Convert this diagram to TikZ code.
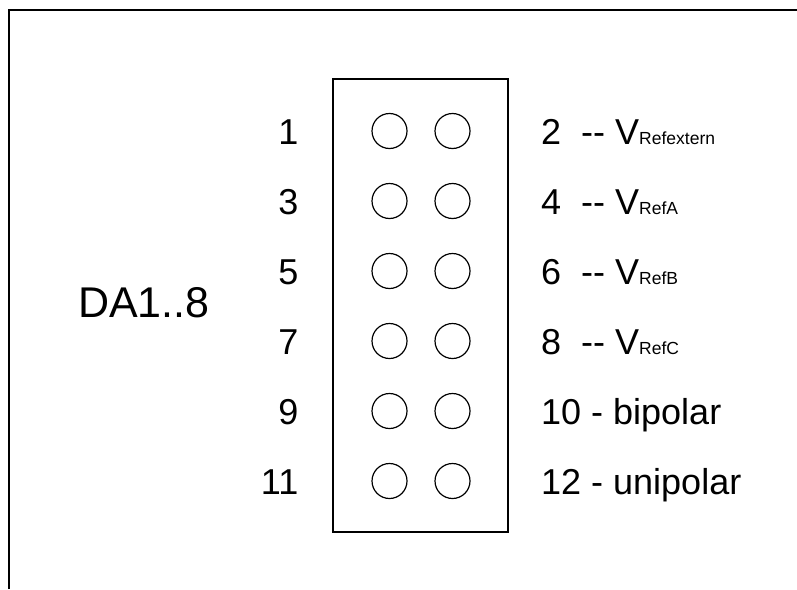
\documentclass[tikz,border=0pt]{standalone}
\usepackage{fontspec}
\setmainfont{Liberation Sans}
\usetikzlibrary{positioning}

\newcommand{\vsub}[1]{V{\fontsize{17.5}{20}\selectfont #1}}

\begin{document}
\begin{tikzpicture}[x=1pt,y=-1pt,node distance=70pt]
  \tikzstyle{hole}=[circle,draw,line width=1.2pt,minimum size=35pt,inner sep=0pt]
  \tikzstyle{num}=[font=\fontsize{36}{42}\selectfont,inner sep=0pt]
  \tikzstyle{lnum}=[num,anchor=base east]
  \tikzstyle{rnum}=[num,anchor=base west]

  \useasboundingbox (0,0) rectangle (797,589);
  \draw[line width=2pt] (9,589) -- (9,10) -- (797,10); % frame

  \node [draw,line width=2pt,minimum width=175pt,minimum height=453pt,inner sep=0pt] (box) at (420.5,305.5) {};

    \node [hole] (h1) at (389.5,131) {};
    \node [hole] (h2) [right of=h1,node distance=63pt] {};
    \node [hole] (h3) [below of=h1] {};
    \node [hole] (h4) [right of=h3,node distance=63pt] {};
    \node [hole] (h5) [below of=h3] {};
    \node [hole] (h6) [right of=h5,node distance=63pt] {};
    \node [hole] (h7) [below of=h5] {};
    \node [hole] (h8) [right of=h7,node distance=63pt] {};
    \node [hole] (h9) [below of=h7] {};
    \node [hole] (h10) [right of=h9,node distance=63pt] {};
    \node [hole] (h11) [below of=h9] {};
    \node [hole] (h12) [right of=h11,node distance=63pt] {};

    % pin numbers
    \node [lnum] (n1) at (298.5,144) {1};
    \node [lnum] (n3) at (298.5,214) {3};
    \node [lnum] (n5) at (298.5,284) {5};
    \node [lnum] (n7) at (298.5,354) {7};
    \node [lnum] (n9) at (298.5,424) {9};
    \node [lnum] (n11) at (298.5,494) {11};

    \node [rnum] (n2) at (541,144) {2\ \ -{}- \vsub{Refextern}};
    \node [rnum] (n4) at (541,214) {4\ \ -{}- \vsub{RefA}};
    \node [rnum] (n6) at (541,284) {6\ \ -{}- \vsub{RefB}};
    \node [rnum] (n8) at (541,354) {8\ \ -{}- \vsub{RefC}};
    \node [rnum] (n10) at (541,424) {10 - bipolar};
    \node [rnum] (n12) at (541,494) {12 - unipolar};

  \node [anchor=base west,inner sep=0pt,font=\fontsize{43}{50}\selectfont] (da) at (78,317) {DA1..8};
\end{tikzpicture}
\end{document}
